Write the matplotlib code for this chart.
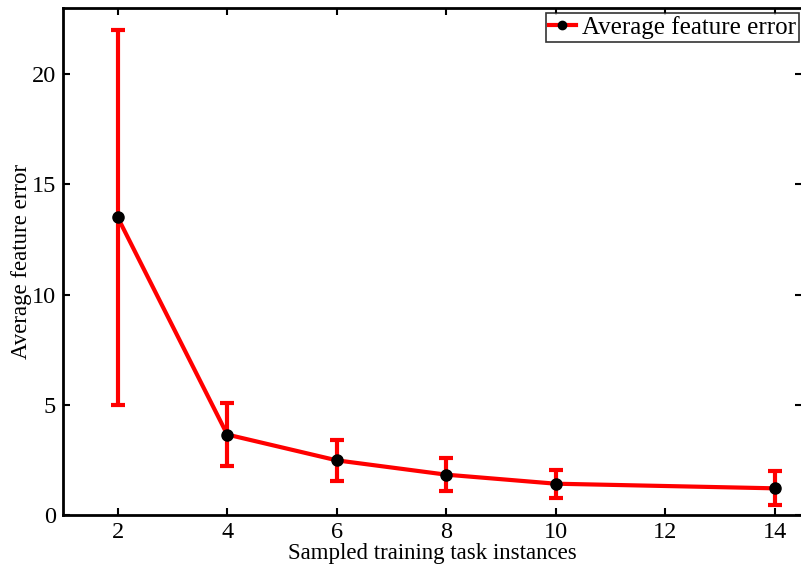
import matplotlib
matplotlib.use("Agg")
import matplotlib.pyplot as plt
from matplotlib.lines import Line2D

plt.rcParams['font.family'] = ['Liberation Serif', 'DejaVu Serif']

x_vals = [2, 4, 6, 8, 10, 14]
mean_err = [13.5, 3.65, 2.48, 1.83, 1.42, 1.21]
err_bar = [8.5, 1.42, 0.93, 0.74, 0.63, 0.77]
x_ticks = [2, 4, 6, 8, 10, 12, 14]
y_ticks = [0, 5, 10, 15, 20]

fig = plt.figure(figsize=(8.01, 5.64), dpi=100)
ax = fig.add_axes([63/801, 49/564, 739/801, 507/564])

ax.errorbar(x_vals, mean_err, yerr=err_bar, color='red', lw=3,
            elinewidth=3, capsize=5, capthick=3, marker='o',
            markersize=8, markerfacecolor='black', markeredgecolor='black',
            label='Average feature error', zorder=3)

ax.set_xlim(1, 14.5)
ax.set_ylim(0, 23)
ax.set_xticks(x_ticks)
ax.set_yticks(y_ticks)
ax.tick_params(direction='in', length=5, width=1.5, top=True, right=True,
               labelsize=17.5, pad=5)
for s in ax.spines.values():
    s.set_linewidth(2)

ax.set_xlabel('Sampled training task instances', fontsize=16.5, labelpad=0)
ax.set_ylabel('Average feature error', fontsize=16.5, labelpad=0)

h = Line2D([], [], color='red', lw=3, marker='o', markersize=6,
           markerfacecolor='black', markeredgecolor='black')
leg = ax.legend([h], ['Average feature error'], loc='upper right',
                fontsize=18, frameon=True, fancybox=False, borderpad=0.12,
                handlelength=1.1, handletextpad=0.25, borderaxespad=0,
                bbox_to_anchor=(0.9965, 0.99))
leg.get_frame().set_edgecolor('black')
leg.get_frame().set_linewidth(1.2)

fig.savefig('out.png', dpi=100)
